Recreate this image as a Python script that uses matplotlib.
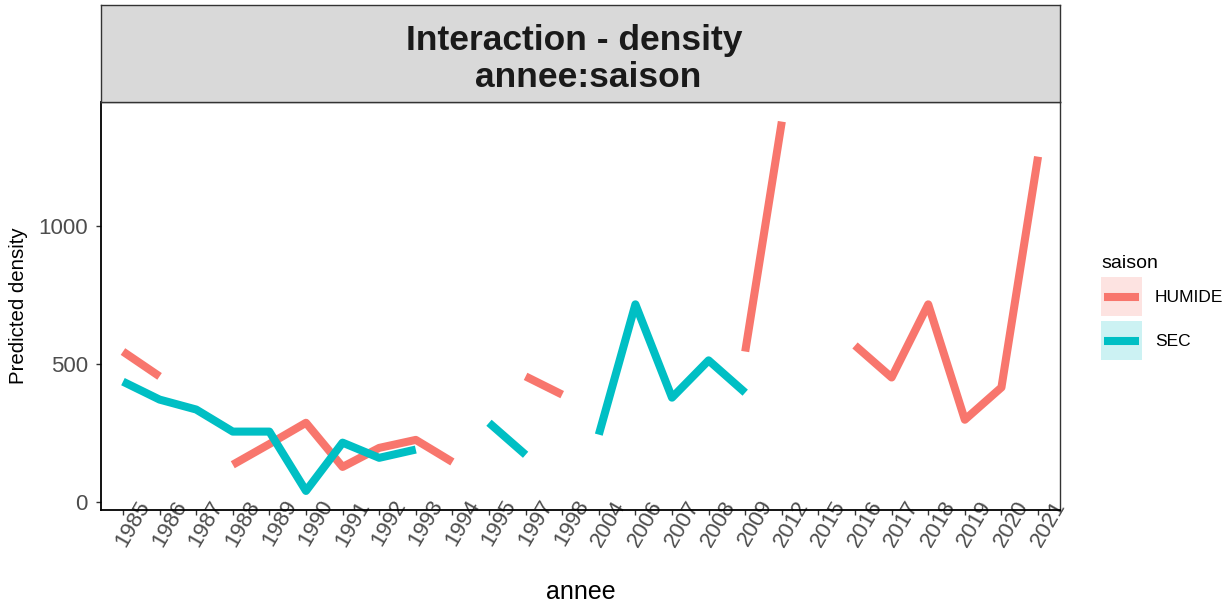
import numpy as np
import matplotlib
matplotlib.use("Agg")
import matplotlib.pyplot as plt
from matplotlib.patches import Rectangle
from matplotlib.lines import Line2D
from matplotlib.legend_handler import HandlerBase
from matplotlib.transforms import ScaledTranslation

plt.rcParams['font.family'] = ['Liberation Sans', 'DejaVu Sans']

# Data
annees = ["1985", "1986", "1987", "1988", "1989", "1990", "1991", "1992", "1993",
          "1994", "1995", "1997", "1998", "2004", "2006", "2007", "2008", "2009",
          "2012", "2015", "2016", "2017", "2018", "2019", "2020", "2021"]
nan = np.nan
humide = [545, 455, nan, 135, 210, 287, 127, 196, 225, 145, nan, 455, 389,
          nan, nan, nan, nan, 545, 1378, nan, 567, 451, 716, 298, 415, 1251]
sec = [436, 371, 335, 255, 255, 40, 215, 160, 190, nan, 287, 171, nan,
       244, 716, 378, 513, 396, nan, nan, nan, nan, nan, nan, nan, nan]

red = "#F8766D"
teal = "#00BFC4"
lw = 5.8


# ggplot-like legend key: pale square with a thick line across the middle
class KeyHandler(HandlerBase):
    def create_artists(self, legend, orig_handle, xdescent, ydescent, width, height, fontsize, trans):
        c = orig_handle.get_color()
        box = Rectangle((-xdescent, -ydescent), width, height, facecolor=c, alpha=0.2,
                        edgecolor="none", transform=trans)
        y = -ydescent + height / 2
        line = Line2D([-xdescent + 2, -xdescent + width - 2], [y, y], color=c, lw=lw,
                      solid_capstyle="butt", transform=trans)
        return [box, line]


fig = plt.figure(figsize=(12.28, 6.04), dpi=100)
W, H = 1228, 604
left, right, bottom, top = 101 / W, 1060 / W, 1 - 510 / H, 1 - 102 / H
ax = fig.add_axes([left, bottom, right - left, top - bottom])

x = np.arange(len(annees))
l1, = ax.plot(x, humide, color=red, lw=lw, solid_capstyle="butt", solid_joinstyle="round")
l2, = ax.plot(x, sec, color=teal, lw=lw, solid_capstyle="butt", solid_joinstyle="round")

ax.set_xlim(-0.6, len(annees) - 0.4)
ax.set_ylim(-29, 1449)
ax.set_yticks([0, 500, 1000])
ax.set_xticks(x)
ax.set_xticklabels(annees, rotation=60, rotation_mode="anchor", ha="center", va="center")

ax.tick_params(axis="both", direction="out", length=3.6, width=1, color="#333333",
               labelsize=16, labelcolor="#4D4D4D")
ax.tick_params(axis="x", pad=6)
ax.tick_params(axis="y", pad=5.8)

# shift rotated year labels to the right (ggplot-style placement)
for lab in ax.get_xticklabels():
    lab.set_transform(lab.get_transform() + ScaledTranslation(0.10, 0, fig.dpi_scale_trans))

for s in ["top", "right"]:
    ax.spines[s].set_color("#333333")
    ax.spines[s].set_linewidth(1)
for s in ["left", "bottom"]:
    ax.spines[s].set_color("black")
    ax.spines[s].set_linewidth(1.3)

ax.set_ylabel("Predicted density", fontsize=14.7)
ax.yaxis.set_label_coords((28 - 101) / 959, 0.5)
fig.text((left + right) / 2, 1 - 592 / H, "annee", ha="center", va="center", fontsize=18)

# Facet strip
strip = fig.add_axes([left, top, right - left, (102 - 5) / H])
strip.set_facecolor("#D9D9D9")
strip.set_xticks([])
strip.set_yticks([])
for s in strip.spines.values():
    s.set_color("#333333")
    s.set_linewidth(1)
strip.text(0.4937, 0.536, "Interaction - density", ha="center", va="baseline",
           fontsize=25.5, fontweight="bold", color="#1A1A1A", transform=strip.transAxes)
strip.text(0.5083, 0.158, "annee:saison", ha="center", va="baseline",
           fontsize=25.5, fontweight="bold", color="#1A1A1A", transform=strip.transAxes)

# Legend
leg = fig.legend([l1, l2], ["HUMIDE", "SEC"], title="saison", loc="upper left",
                 handler_map={Line2D: KeyHandler()},
                 bbox_to_anchor=(1101 / W, 1 - 255 / H), frameon=False, fontsize=12.5,
                 title_fontsize=14, handlelength=2.36, handleheight=3.08, labelspacing=0.29,
                 handletextpad=0.75, borderpad=0, borderaxespad=0)
leg._legend_box.align = "left"

fig.savefig("out.png", dpi=100)
